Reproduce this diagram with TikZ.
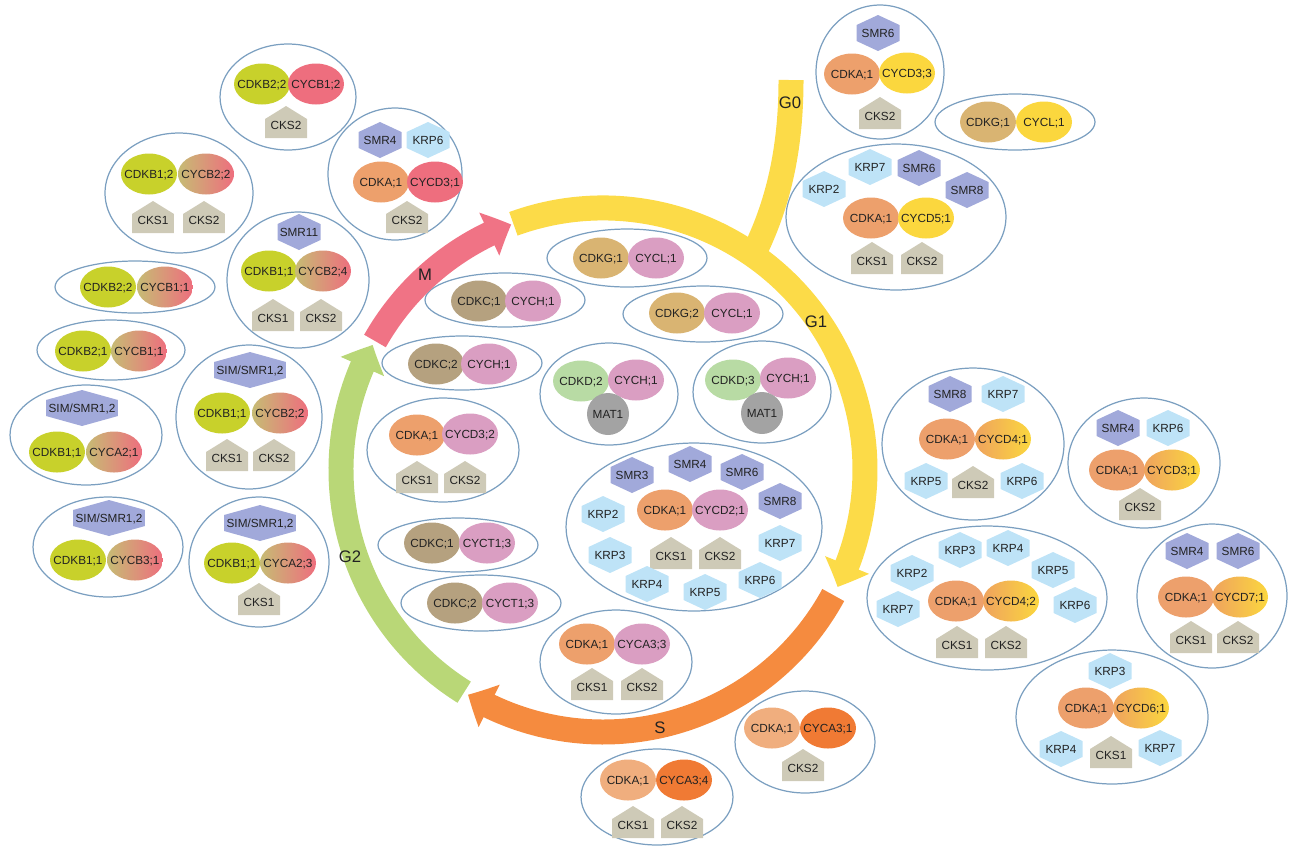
\documentclass[tikz,border=0pt]{standalone}
\usepackage{fontspec}
\setmainfont{Liberation Sans}
\usetikzlibrary{shapes.geometric, arrows.meta, bending}
\definecolor{inkgray}{HTML}{222222}
\definecolor{rimblue}{HTML}{7B9FC0}
\definecolor{cdkbgreen}{HTML}{C8D12B}
\definecolor{cycbred}{HTML}{EE6E7E}
\definecolor{cycbtan}{HTML}{C6BC74}
\definecolor{cdkaorange}{HTML}{EDA06C}
\definecolor{cdkalite}{HTML}{F0AE7E}
\definecolor{cycadark}{HTML}{F07A34}
\definecolor{cycdyellow}{HTML}{FBD73E}
\definecolor{cycdleft}{HTML}{EFA35E}
\definecolor{cdkgtan}{HTML}{D9B472}
\definecolor{cycpink}{HTML}{DA9EC2}
\definecolor{cdkcbrown}{HTML}{B5A17F}
\definecolor{cdkdgreen}{HTML}{B8DBA4}
\definecolor{matgray}{HTML}{A3A3A3}
\definecolor{smrblue}{HTML}{A1A9DA}
\definecolor{krpblue}{HTML}{BEE3F7}
\definecolor{ckstan}{HTML}{CECAB7}
\definecolor{arcred}{HTML}{F07385}
\definecolor{arcyellow}{HTML}{FCDB48}
\definecolor{arcorange}{HTML}{F58B3F}
\definecolor{arcgreen}{HTML}{B9D777}

\newcommand{\protfont}{\fontsize{6.7}{8}\selectfont}
\newcommand{\phasefont}{\fontsize{9.5}{11}\selectfont}

\tikzset{
  every node/.append style={font=\protfont, text=inkgray},
  cplx/.style 2 args={ellipse, draw=rimblue, line width=0.7pt, inner sep=0pt,
    minimum width=#1*0.04cm, minimum height=#2*0.04cm},
  protein/.style={rectangle, minimum width=1.12cm, minimum height=0.82cm, inner sep=0pt,
    text height=4.9pt, text depth=0pt,
    path picture={\path[#1] (path picture bounding box.center) ellipse [x radius=0.56cm, y radius=0.41cm];}},
  hexnode/.style 2 args={rectangle, minimum width=2*#2, minimum height=0.72cm, inner sep=0pt,
    text height=4.9pt, text depth=0pt,
    path picture={\fill[#1] ([yshift=0.36cm]path picture bounding box.center)
      -- ([xshift=#2, yshift=0.16cm]path picture bounding box.center)
      -- ([xshift=#2, yshift=-0.16cm]path picture bounding box.center)
      -- ([yshift=-0.36cm]path picture bounding box.center)
      -- ([xshift=-#2, yshift=-0.16cm]path picture bounding box.center)
      -- ([xshift=-#2, yshift=0.16cm]path picture bounding box.center) -- cycle;}},
  cks/.style={rectangle, minimum width=0.84cm, minimum height=0.64cm, inner sep=0pt,
    text height=8.3pt, text depth=0pt,
    path picture={\fill[ckstan] ([yshift=0.32cm]path picture bounding box.center)
      -- ([xshift=0.42cm, yshift=0.06cm]path picture bounding box.center)
      -- ([xshift=0.42cm, yshift=-0.32cm]path picture bounding box.center)
      -- ([xshift=-0.42cm, yshift=-0.32cm]path picture bounding box.center)
      -- ([xshift=-0.42cm, yshift=0.06cm]path picture bounding box.center) -- cycle;}},
  mat/.style={rectangle, minimum size=0.84cm, inner sep=0pt, text height=4.9pt, text depth=0pt,
    path picture={\fill[matgray] (path picture bounding box.center) circle [radius=0.42cm];}},
  smr/.style={hexnode={smrblue}{0.43cm}},
  krp/.style={hexnode={krpblue}{0.43cm}},
  simsmr/.style={hexnode={smrblue}{0.72cm}},
  cdkb/.style={protein={fill=cdkbgreen}},
  cycbr/.style={protein={fill=cycbred}},
  cycbg/.style={protein={left color=cycbtan, right color=cycbred}},
  cdka/.style={protein={fill=cdkaorange}},
  cdkal/.style={protein={fill=cdkalite}},
  cycad/.style={protein={fill=cycadark}},
  cycdy/.style={protein={fill=cycdyellow}},
  cycdg/.style={protein={left color=cycdleft, right color=cycdyellow}},
  cdkg/.style={protein={fill=cdkgtan}},
  cycp/.style={protein={fill=cycpink}},
  cdkc/.style={protein={fill=cdkcbrown}},
  cdkd/.style={protein={fill=cdkdgreen}},
  phase/.style={line width=0.5cm, -{Triangle[length=0.48cm, width=0.92cm, bend]}},
  phaselabel/.style={font=\phasefont, text=inkgray, inner sep=1pt}
}

\begin{document}
\begin{tikzpicture}[x=0.02cm, y=-0.02cm]
  \useasboundingbox (0,0) rectangle (1290,846);

  % complex rims
  \node[cplx={68}{53}] (k1) at (288,97) {};
  \node[cplx={74}{60}] (k2) at (179,193) {};
  \node[cplx={67}{66}] (k3) at (395,174) {};
  \node[cplx={71}{68}] (k4) at (298,280) {};
  \node[cplx={80}{29}] (k5) at (627,258) {};
  \node[cplx={64}{67}] (k6) at (880,72) {};
  \node[cplx={80}{28}] (k7) at (1015,122) {};
  \node[cplx={110}{73}] (k8) at (896,217) {};
  \node[cplx={80}{26}] (k9) at (135,287) {};
  \node[cplx={74}{30}] (k10) at (111,350) {};
  \node[cplx={76}{50}] (k11) at (86,435) {};
  \node[cplx={73}{72}] (k12) at (249,417) {};
  \node[cplx={75}{50}] (k13) at (108,547) {};
  \node[cplx={70}{65}] (k14) at (259,562) {};
  \node[cplx={80}{27}] (k15) at (505,300) {};
  \node[cplx={80}{28}] (k16) at (703,314) {};
  \node[cplx={80}{27}] (k17) at (462,363) {};
  \node[cplx={69}{51}] (k18) at (609,394) {};
  \node[cplx={69}{51}] (k19) at (762,392) {};
  \node[cplx={76}{52}] (k20) at (443,450) {};
  \node[cplx={128}{84}] (k21) at (694,527) {};
  \node[cplx={80}{28}] (k22) at (481,603) {};
  \node[cplx={80}{27}] (k23) at (458,545) {};
  \node[cplx={76}{52}] (k24) at (616,662) {};
  \node[cplx={70}{51}] (k25) at (805,742) {};
  \node[cplx={76}{48}] (k26) at (657,797) {};
  \node[cplx={91}{76}] (k27) at (973,444) {};
  \node[cplx={76}{65}] (k28) at (1144,463) {};
  \node[cplx={120}{72}] (k29) at (987,598) {};
  \node[cplx={75}{72}] (k30) at (1212,596) {};
  \node[cplx={96}{67}] (k31) at (1112,717) {};

  % cell cycle phases
  \coordinate (hub) at (603,470);
  \draw[arcyellow, line width=0.5cm] (753,255) .. controls (778,205) and (791,150) .. (791,80);
  \draw[phase, arcred] (hub) ++(209.5:262) arc[start angle=209.5, end angle=249.5, radius=262];
  \draw[phase, arcyellow] (hub) ++(250:262) arc[start angle=250, end angle=386.5, radius=262];
  \draw[phase, arcorange] (hub) ++(28.5:262) arc[start angle=28.5, end angle=121, radius=262];
  \draw[phase, arcgreen] (hub) ++(122:262) arc[start angle=122, end angle=208.5, radius=262];
  \node[phaselabel] (lm) at (425,275) {M};
  \node[phaselabel] (lg0) at (790,103) {G0};
  \node[phaselabel] (lg1) at (816,322) {G1};
  \node[phaselabel] (ls) at (660,728) {S};
  \node[phaselabel] (lg2) at (350,557) {G2};

  % 1
  \node[cdkb] (cdk1) at (262,84) {CDKB2;2};
  \node[cycbr] (cyc1) at (316,84) {CYCB1;2};
  \node[cks] (k1cks2) at (286,122) {CKS2};
  % 2
  \node[cdkb] (cdk2) at (149,174) {CDKB1;2};
  \node[cycbg] (cyc2) at (206,174) {CYCB2;2};
  \node[cks] (k2cks1) at (153,217) {CKS1};
  \node[cks] (k2cks2) at (204,217) {CKS2};
  % 3
  \node[smr] (k3smr4) at (380,140) {SMR4};
  \node[krp] (k3krp6) at (428,140) {KRP6};
  \node[cdka] (cdk3) at (381,182) {CDKA;1};
  \node[cycbr] (cyc3) at (435,182) {CYCD3;1};
  \node[cks] (k3cks2) at (407,217) {CKS2};
  % 4
  \node[smr] (k4smr11) at (299,232) {SMR11};
  \node[cdkb] (cdk4) at (269,271) {CDKB1;1};
  \node[cycbg] (cyc4) at (323,271) {CYCB2;4};
  \node[cks] (k4cks1) at (273,315) {CKS1};
  \node[cks] (k4cks2) at (321,315) {CKS2};
  % 5
  \node[cdkg] (cdk5) at (601,258) {CDKG;1};
  \node[cycp] (cyc5) at (656,258) {CYCL;1};
  % 6
  \node[smr] (k6smr6) at (878,33) {SMR6};
  \node[cdka] (cdk6) at (852,74) {CDKA;1};
  \node[cycdy] (cyc6) at (907,73) {CYCD3;3};
  \node[cks] (k6cks2) at (880,113) {CKS2};
  % 7
  \node[cdkg] (cdk7) at (988,122) {CDKG;1};
  \node[cycdy] (cyc7) at (1044,122) {CYCL;1};
  % 8
  \node[krp] (k8krp2) at (824,189) {KRP2};
  \node[krp] (k8krp7) at (870,167) {KRP7};
  \node[smr] (k8smr6) at (919,168) {SMR6};
  \node[smr] (k8smr8) at (967,190) {SMR8};
  \node[cdka] (cdk8) at (871,218) {CDKA;1};
  \node[cycdy] (cyc8) at (926,218) {CYCD5;1};
  \node[cks] (k8cks1) at (872,258) {CKS1};
  \node[cks] (k8cks2) at (922,258) {CKS2};
  % 9
  \node[cdkb] (cdk9) at (108,287) {CDKB2;2};
  \node[cycbg] (cyc9) at (165,287) {CYCB1;1};
  % 10
  \node[cdkb] (cdk10) at (83,351) {CDKB2;1};
  \node[cycbg] (cyc10) at (139,351) {CYCB1;1};
  % 11
  \node[simsmr] (k11sim) at (82,408) {SIM/SMR1,2};
  \node[cdkb] (cdk11) at (57,452) {CDKB1;1};
  \node[cycbg] (cyc11) at (114,452) {CYCA2;1};
  % 12
  \node[simsmr] (k12sim) at (250,370) {SIM/SMR1,2};
  \node[cdkb] (cdk12) at (222,413) {CDKB1;1};
  \node[cycbg] (cyc12) at (280,413) {CYCB2;2};
  \node[cks] (k12cks1) at (227,455) {CKS1};
  \node[cks] (k12cks2) at (274,455) {CKS2};
  % 13
  \node[simsmr] (k13sim) at (109,518) {SIM/SMR1,2};
  \node[cdkb] (cdk13) at (78,560) {CDKB1;1};
  \node[cycbg] (cyc13) at (135,560) {CYCB3;1};
  % 14
  \node[simsmr] (k14sim) at (260,523) {SIM/SMR1,2};
  \node[cdkb] (cdk14) at (232,563) {CDKB1;1};
  \node[cycbg] (cyc14) at (288,563) {CYCA2;3};
  \node[cks] (k14cks1) at (259,599) {CKS1};
  % 15
  \node[cdkc] (cdk15) at (479,301) {CDKC;1};
  \node[cycp] (cyc15) at (533,301) {CYCH;1};
  % 16
  \node[cdkg] (cdk16) at (677,313) {CDKG;2};
  \node[cycp] (cyc16) at (732,313) {CYCL;1};
  % 17
  \node[cdkc] (cdk17) at (436,364) {CDKC;2};
  \node[cycp] (cyc17) at (489,364) {CYCH;1};
  % 18
  \node[cdkd] (cdk18) at (581,381) {CDKD;2};
  \node[cycp] (cyc18) at (636,380) {CYCH;1};
  \node[mat] (k18mat1) at (608,414) {MAT1};
  % 19
  \node[cdkd] (cdk19) at (733,380) {CDKD;3};
  \node[cycp] (cyc19) at (788,378) {CYCH;1};
  \node[mat] (k19mat1) at (762,413) {MAT1};
  % 20
  \node[cdka] (cdk20) at (417,435) {CDKA;1};
  \node[cycp] (cyc20) at (470,434) {CYCD3;2};
  \node[cks] (k20cks1) at (417,477) {CKS1};
  \node[cks] (k20cks2) at (465,477) {CKS2};
  % 21
  \node[smr] (k21smr3) at (632,475) {SMR3};
  \node[smr] (k21smr4) at (690,464) {SMR4};
  \node[smr] (k21smr6) at (742,472) {SMR6};
  \node[smr] (k21smr8) at (780,501) {SMR8};
  \node[krp] (k21krp2) at (603,514) {KRP2};
  \node[cdka] (cdk21) at (665,510) {CDKA;1};
  \node[cycp] (cyc21) at (720,510) {CYCD2;1};
  \node[krp] (k21krp7) at (780,543) {KRP7};
  \node[krp] (k21krp3) at (610,555) {KRP3};
  \node[cks] (k21cks1) at (671,553) {CKS1};
  \node[cks] (k21cks2) at (720,553) {CKS2};
  \node[krp] (k21krp4) at (647,584) {KRP4};
  \node[krp] (k21krp5) at (705,592) {KRP5};
  \node[krp] (k21krp6) at (760,580) {KRP6};
  % 22, 23
  \node[cdkc] (cdk22) at (455,603) {CDKC;2};
  \node[cycp] (cyc22) at (510,603) {CYCT1;3};
  \node[cdkc] (cdk23) at (432,543) {CDKC;1};
  \node[cycp] (cyc23) at (487,543) {CYCT1;3};
  % 24
  \node[cdka] (cdk24) at (587,644) {CDKA;1};
  \node[cycp] (cyc24) at (642,644) {CYCA3;3};
  \node[cks] (k24cks1) at (592,684) {CKS1};
  \node[cks] (k24cks2) at (642,684) {CKS2};
  % 25
  \node[cdkal] (cdk25) at (772,728) {CDKA;1};
  \node[cycad] (cyc25) at (828,728) {CYCA3;1};
  \node[cks] (k25cks2) at (803,765) {CKS2};
  % 26
  \node[cdkal] (cdk26) at (628,780) {CDKA;1};
  \node[cycad] (cyc26) at (684,780) {CYCA3;4};
  \node[cks] (k26cks1) at (633,822) {CKS1};
  \node[cks] (k26cks2) at (682,822) {CKS2};
  % 27
  \node[smr] (k27smr8) at (950,394) {SMR8};
  \node[krp] (k27krp7) at (1003,394) {KRP7};
  \node[cdka] (cdk27) at (947,439) {CDKA;1};
  \node[cycdg] (cyc27) at (1003,439) {CYCD4;1};
  \node[krp] (k27krp5) at (926,481) {KRP5};
  \node[cks] (k27cks2) at (973,482) {CKS2};
  \node[krp] (k27krp6) at (1022,481) {KRP6};
  % 28
  \node[smr] (k28smr4) at (1118,428) {SMR4};
  \node[krp] (k28krp6) at (1168,428) {KRP6};
  \node[cdka] (cdk28) at (1117,470) {CDKA;1};
  \node[cycdg] (cyc28) at (1172,470) {CYCD3;1};
  \node[cks] (k28cks2) at (1140,504) {CKS2};
  % 29
  \node[krp] (k29krp3) at (960,550) {KRP3};
  \node[krp] (k29krp4) at (1008,548) {KRP4};
  \node[krp] (k29krp2) at (912,573) {KRP2};
  \node[krp] (k29krp5) at (1053,570) {KRP5};
  \node[krp] (k29krp7) at (898,609) {KRP7};
  \node[cdka] (cdk29) at (956,601) {CDKA;1};
  \node[cycdg] (cyc29) at (1011,601) {CYCD4;2};
  \node[krp] (k29krp6) at (1075,605) {KRP6};
  \node[cks] (k29cks1) at (957,642) {CKS1};
  \node[cks] (k29cks2) at (1006,642) {CKS2};
  % 30
  \node[smr] (k30smr4) at (1187,551) {SMR4};
  \node[smr] (k30smr6) at (1238,551) {SMR6};
  \node[cdka] (cdk30) at (1186,597) {CDKA;1};
  \node[cycdg] (cyc30) at (1240,597) {CYCD7;1};
  \node[cks] (k30cks1) at (1191,637) {CKS1};
  \node[cks] (k30cks2) at (1238,637) {CKS2};
  % 31
  \node[krp] (k31krp3) at (1110,671) {KRP3};
  \node[cdka] (cdk31) at (1086,708) {CDKA;1};
  \node[cycdg] (cyc31) at (1141,708) {CYCD6;1};
  \node[krp] (k31krp4) at (1061,749) {KRP4};
  \node[cks] (k31cks1) at (1111,752) {CKS1};
  \node[krp] (k31krp7) at (1160,748) {KRP7};
\end{tikzpicture}
\end{document}
